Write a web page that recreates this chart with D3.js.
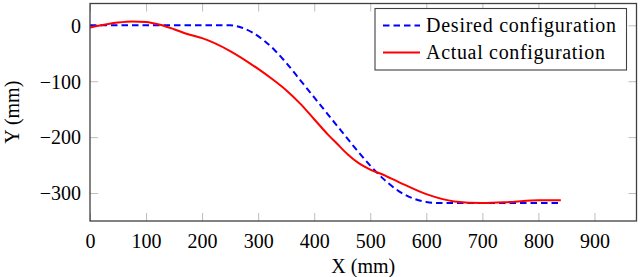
<!DOCTYPE html>
<html>
<head>
<meta charset="utf-8">
<script src="https://cdn.jsdelivr.net/npm/d3@7"></script>
<style>
  body { margin: 0; background: #fff; }
  text { font-family: "Liberation Serif", "DejaVu Serif", serif; }
</style>
</head>
<body>
<svg id="chart" width="640" height="277"></svg>
<script>
// ***** Data *****
const desiredX = [0, 50, 100, 150, 200, 250, 270, 290, 310, 330, 350, 375, 400, 425, 450, 475, 500, 525, 550, 575, 600, 625, 650, 700, 750, 800, 840];
const desiredY = [0, 0, 0, 0, 0, 0, -4, -13, -27, -45, -67, -98, -129, -160, -191, -222, -251, -276, -296, -309, -316, -318, -318, -318, -318, -318, -318];

const actualX = [0, 25, 50, 75, 100, 125, 150, 175, 200, 250, 300, 325, 350, 375, 400, 425, 440, 460, 480, 500, 520, 550, 600, 650, 700, 750, 800, 840];
const actualY = [-4, 1, 5, 7, 6, 1, -7, -16, -23, -46, -78, -96, -116, -140, -168, -196, -211, -231, -247, -258, -266, -280, -302, -315, -318, -316, -313, -313];

const xTicks = [0, 100, 200, 300, 400, 500, 600, 700, 800, 900];
const yTicks = [0, -100, -200, -300];

const seriesNames = ["Desired configuration", "Actual configuration"];

// ***** Layout *****
const margin = { left: 90, top: 3.5, right: 3.5, bottom: 56 };
const width = 640, height = 277;
const svg = d3.select("#chart");

const xScale = d3.scaleLinear().domain([0, 975]).range([margin.left, width - margin.right]);
const yScale = d3.scaleLinear().domain([-350, 39]).range([height - margin.bottom, margin.top]);

const plotL = margin.left, plotR = width - margin.right;
const plotT = margin.top, plotB = height - margin.bottom;

const tickLen = 8;
const tickColor = "#bdbdbd";
const fontSize = 20;

// ***** Axes (ticks pointing inward, on all four sides) *****
const fmt = d => d < 0 ? "\u2212" + Math.abs(d) : String(d);

const gx = svg.append("g")
  .attr("transform", "translate(0," + plotB + ")")
  .call(d3.axisBottom(xScale).tickValues(xTicks).tickSizeInner(-tickLen).tickSizeOuter(0).tickPadding(tickLen + 5).tickFormat(fmt));
const gxTop = svg.append("g")
  .attr("transform", "translate(0," + plotT + ")")
  .call(d3.axisTop(xScale).tickValues(xTicks).tickSizeInner(-tickLen).tickSizeOuter(0).tickFormat(""));
const gy = svg.append("g")
  .attr("transform", "translate(" + plotL + ",0)")
  .call(d3.axisLeft(yScale).tickValues(yTicks).tickSizeInner(-tickLen).tickSizeOuter(0).tickPadding(tickLen + 1).tickFormat(fmt));
const gyRight = svg.append("g")
  .attr("transform", "translate(" + plotR + ",0)")
  .call(d3.axisRight(yScale).tickValues(yTicks).tickSizeInner(-tickLen).tickSizeOuter(0).tickFormat(""));

[gx, gxTop, gy, gyRight].forEach(g => {
  g.select(".domain").remove();
  g.selectAll(".tick line").attr("stroke", tickColor).attr("stroke-width", 1);
  g.selectAll(".tick text")
    .attr("fill", "#000")
    .style("font-size", fontSize + "px")
    .style("font-family", "'Liberation Serif', serif");
});
gx.selectAll(".tick text").attr("dy", "0.71em");
gy.selectAll(".tick text").attr("dy", "0.34em");

// ***** Lines *****
const line = d3.line()
  .x(d => xScale(d[0]))
  .y(d => yScale(d[1]))
  .curve(d3.curveMonotoneX);

const desired = desiredX.map((x, i) => [x, desiredY[i]]);
const actual = actualX.map((x, i) => [x, actualY[i]]);

svg.append("path")
  .datum(desired)
  .attr("fill", "none")
  .attr("stroke", "#0000ff")
  .attr("stroke-width", 2)
  .attr("stroke-dasharray", "6.5,4")
  .attr("d", line);

svg.append("path")
  .datum(actual)
  .attr("fill", "none")
  .attr("stroke", "#ff0000")
  .attr("stroke-width", 2)
  .attr("d", line);

// ***** Frame *****
svg.append("rect")
  .attr("x", plotL).attr("y", plotT)
  .attr("width", plotR - plotL).attr("height", plotB - plotT)
  .attr("fill", "none")
  .attr("stroke", "#404040")
  .attr("stroke-width", 1.3);

// ***** Axis labels *****
svg.append("text")
  .attr("x", (plotL + plotR) / 2)
  .attr("y", 273)
  .attr("text-anchor", "middle")
  .style("font-size", fontSize + "px")
  .text("X (mm)");

svg.append("text")
  .attr("transform", "translate(19," + ((plotT + plotB) / 2) + ") rotate(-90)")
  .attr("text-anchor", "middle")
  .style("font-size", fontSize + "px")
  .text("Y (mm)");

// ***** Legend *****
const legend = svg.append("g").attr("transform", "translate(375,8.5)");
legend.append("rect")
  .attr("width", 251.5).attr("height", 61.5)
  .attr("fill", "#fff")
  .attr("stroke", "#404040")
  .attr("stroke-width", 1.1);

const legendStyles = [
  { color: "#0000ff", dash: "6.5,4", len: 190 },
  { color: "#ff0000", dash: null, len: 179 }
];

seriesNames.forEach((name, i) => {
  const yRow = 17 + i * 27;
  legend.append("line")
    .attr("x1", 8).attr("x2", 45)
    .attr("y1", yRow).attr("y2", yRow)
    .attr("stroke", legendStyles[i].color)
    .attr("stroke-width", 2)
    .attr("stroke-dasharray", legendStyles[i].dash);
  legend.append("text")
    .attr("x", 51)
    .attr("y", yRow)
    .attr("dy", "0.32em")
    .attr("textLength", legendStyles[i].len)
    .attr("lengthAdjust", "spacing")
    .style("font-size", fontSize + "px")
    .text(name);
});
</script>
</body>
</html>
